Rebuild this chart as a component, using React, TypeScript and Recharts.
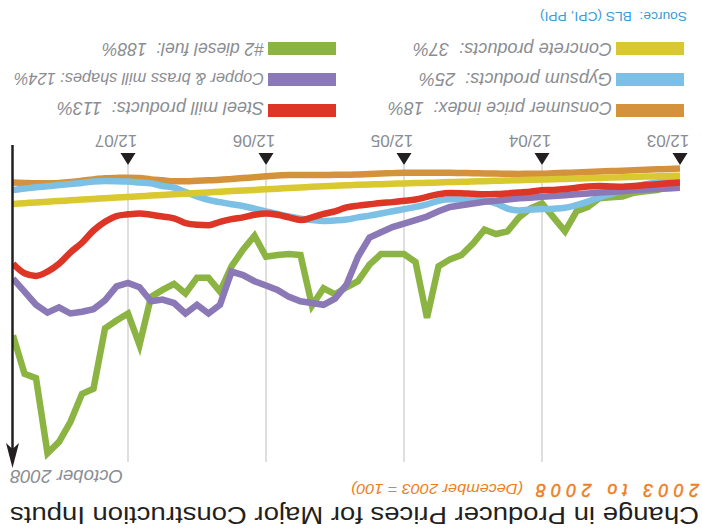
import React from 'react';
import { LineChart, Line, XAxis, YAxis, CartesianGrid } from 'recharts';

// Months from Dec 2003 (index 0) to Oct 2008 (index 58)
const monthIndex: number[] = Array.from({ length: 59 }, (_, i) => i);

const tickMonths = [0, 12, 24, 36, 48];
const tickLabels = ['12/03', '12/04', '12/05', '12/06', '12/07'];
const gridMonths = [12, 24, 36, 48];
const gridValues = [150, 200, 250, 300, 350, 400];

const cpi = [104, 104.5, 105, 105.5, 106, 106.5, 107, 107.5, 108, 108.5,
  109, 109.5, 110, 110, 110.2, 110, 109.8, 109.6, 109.4, 109.2,
  109, 108.9, 108.8, 108.8, 108.8, 109.3, 109.8, 110.3, 110.8, 111.2,
  111.3, 111.4, 111.5, 111.5, 111.5, 112, 113, 114, 115, 116,
  117, 117.5, 118, 118.5, 118.5, 117.5, 116.5, 115, 114.5, 114.8,
  115.3, 116.5, 118, 119.5, 120.5, 121, 121, 120.5, 120];

const concrete = [112.2, 112.6, 113, 113.3, 113.7, 114, 114.4, 114.8, 115.2, 115.5,
  115.9, 116.3, 116.6, 117, 117.4, 117.8, 118.1, 118.5, 118.9, 119.2,
  119.6, 120, 120.4, 120.7, 121.1, 121.5, 121.9, 122.3, 122.7, 123.2,
  123.8, 124.4, 125, 125.7, 126.4, 127.1, 127.8, 128.5, 129.2, 129.9,
  130.6, 131.4, 132.1, 132.8, 133.6, 134.3, 135, 135.8, 136.5, 137.2,
  138, 138.8, 139.6, 140.4, 141.2, 142, 142.8, 143.7, 144.6];

const gypsum = [117, 118.5, 120, 122, 125, 129, 133, 137, 142, 146,
  149, 150, 150.5, 151, 152, 150, 144, 141, 140, 139.5,
  139.3, 141, 145, 148, 150.5, 153, 155.5, 158, 160, 162.5,
  163.5, 164, 163, 161.5, 159, 156, 153, 150, 147, 145,
  142.5, 140, 136, 131, 126, 124, 121, 120, 119, 118.5,
  118.3, 119, 120.5, 121.8, 123, 124.3, 125.5, 127, 128.6];

const steel = [120, 121, 122, 123, 124, 124.8, 124.5, 124, 124.5, 126,
  127.5, 128.5, 129, 130.5, 131.5, 132.5, 133.3, 133.6, 133, 132.2,
  132, 133.5, 136.5, 139.5, 141, 142.5, 143.5, 145, 146.5, 148.5,
  153, 156, 160, 163, 160, 157, 155.5, 157, 160, 162,
  165, 169, 168.5, 166.5, 161, 159, 157, 155.4, 156.5, 158.4,
  165, 175, 189, 200, 213, 222, 227, 224, 213];

const copper = [126, 127, 127.5, 128, 129, 130, 131, 131.5, 132.5, 133.5,
  134.5, 135.5, 136.5, 137.5, 138, 139.5, 141, 142, 144, 146,
  148, 153, 159, 163, 167, 171, 177, 183, 205, 237,
  253, 260, 258, 256, 251, 243, 238, 233, 226, 222,
  260, 270, 260, 270, 258, 254, 256, 240, 235, 239,
  255, 265, 268, 270, 263, 269, 260, 245, 230];

const diesel = [120, 125, 128.6, 130, 131.7, 136, 137, 138, 148, 153,
  176, 160, 144, 149.6, 160, 176, 179, 174, 190, 203,
  208, 216, 275, 211, 202, 202, 202, 214, 233, 240,
  248, 241, 261, 203, 202, 203, 205, 181, 197, 216,
  245, 229, 229, 247, 236, 243, 251, 306, 270, 278,
  287, 356, 362, 394, 417, 430, 344, 339, 295];

const seriesNames = ['Consumer price index:  18%', 'Gypsum products:  25%', 'Concrete products:  37%',
  'Steel mill products:  113%', 'Copper & brass mill shapes: 124%', '#2 diesel fuel:  188%'];
const seriesKeys = ['cpi', 'gypsum', 'concrete', 'steel', 'copper', 'diesel'];
const seriesColors = ['#d4923d', '#7cc0e6', '#d9c830', '#dd3526', '#8b78b7', '#8cb443'];

const rows = monthIndex.map((m, i) => ({
  m,
  cpi: cpi[i],
  concrete: concrete[i],
  gypsum: gypsum[i],
  steel: steel[i],
  copper: copper[i],
  diesel: diesel[i],
}));

const FONT = '"Liberation Sans", Arial, Helvetica, sans-serif';
const GREY = '#8a8d92';
const txt = (extra: React.CSSProperties = {}): React.CSSProperties => ({ fontFamily: FONT, whiteSpace: 'pre', ...extra });

function TriTick(props: any) {
  const { x, payload } = props;
  const idx = tickMonths.indexOf(payload.value);
  return (
    <g>
      <polygon points={`${x - 7.5},376 ${x + 7.5},376 ${x},364`} fill="#231f20" />
      <text x={x + 12} y={394} textAnchor="middle" fontSize={17} fill={GREY} style={txt()}>
        {tickLabels[idx]}
      </text>
    </g>
  );
}

const legendPos = [
  { col: 0, row: 0, len: 224, size: 17.5 },
  { col: 0, row: 1, len: 193, size: 17.5 },
  { col: 0, row: 2, len: 199, size: 17.5 },
  { col: 1, row: 0, len: 207, size: 17.5 },
  { col: 1, row: 1, len: 250, size: 16.8 },
  { col: 1, row: 2, len: 162, size: 17.5 },
];
const rowTops = [412, 443, 474];
const rowBase = [427, 456.5, 486.5];
const colSwatchX = [18, 366];
const colTextX = [90, 438];

export default function App() {
  const lineOrder = ['diesel', 'cpi', 'gypsum', 'concrete', 'copper', 'steel'];
  return (
    <div
      style={{
        position: 'absolute',
        left: 0,
        top: 0,
        width: 702,
        height: 529,
        background: '#ffffff',
        transform: 'rotate(180deg)',
        overflow: 'hidden',
        fontFamily: FONT,
      }}
    >
      <div style={{ position: 'absolute', left: 0, top: 0 }}>
        <LineChart
          width={702}
          height={529}
          data={rows}
          margin={{ top: 67, right: 13, bottom: 135, left: 22 }}
        >
          <CartesianGrid
            stroke="#dfdfdf"
            strokeWidth={2}
            verticalValues={gridMonths}
            horizontalValues={gridValues}
          />
          <XAxis
            dataKey="m"
            type="number"
            domain={[0, 58]}
            ticks={tickMonths}
            interval={0}
            tick={<TriTick />}
            axisLine={false}
            tickLine={false}
            height={30}
            allowDataOverflow
          />
          <YAxis
            type="number"
            domain={[100, 440]}
            ticks={gridValues}
            width={0}
            tick={false}
            axisLine={false}
            tickLine={false}
            allowDataOverflow
          />
          {lineOrder.map((k) => {
            const ci = seriesKeys.indexOf(k);
            const straight = k === 'diesel' || k === 'copper';
            return (
              <Line
                key={k}
                dataKey={k}
                type={straight ? 'linear' : 'monotone'}
                stroke={seriesColors[ci]}
                strokeWidth={6.5}
                strokeLinejoin="miter"
                dot={false}
                activeDot={false}
                isAnimationActive={false}
              />
            );
          })}
        </LineChart>
      </div>
      <svg
        width={702}
        height={529}
        style={{ position: 'absolute', left: 0, top: 0, pointerEvents: 'none', fontFamily: FONT }}
      >
        <text x={3} y={22} fontSize={24.5} fill="#231f20" style={txt()} textLength={689} lengthAdjust="spacingAndGlyphs">
          Change in Producer Prices for Major Construction Inputs
        </text>
        <text x={3} y={45} fontSize={17.5} fill="#ef7d22" stroke="#ef7d22" strokeWidth={0.5} fontStyle="italic" style={txt()} textLength={163} lengthAdjust="spacing">
          2003 to 2008
        </text>
        <text x={179} y={45} fontSize={15.5} fill="#ef7d22" fontStyle="italic" style={txt()} textLength={172} lengthAdjust="spacingAndGlyphs">
          (December 2003 = 100)
        </text>
        <text x={579} y={59} fontSize={17.5} fill={GREY} fontStyle="italic" style={txt()} textLength={113} lengthAdjust="spacingAndGlyphs">
          October 2008
        </text>
        <line x1={689.5} y1={384} x2={689.5} y2={76} stroke="#231f20" strokeWidth={2.5} />
        <polygon points="689.5,61 696,86 689.5,80 683,86" fill="#231f20" />
        {legendPos.map((p, i) => (
          <g key={seriesKeys[i]}>
            <rect x={colSwatchX[p.col]} y={rowTops[p.row]} width={68} height={13} fill={seriesColors[i]} />
            <text
              x={colTextX[p.col]}
              y={rowBase[p.row]}
              fontSize={p.size}
              fontStyle="italic"
              fill={GREY}
              style={txt()}
              textLength={p.len}
              lengthAdjust="spacingAndGlyphs"
            >
              {seriesNames[i]}
            </text>
          </g>
        ))}
        <text x={15} y={517} fontSize={12.5} fill="#3c9ad6" style={txt()} textLength={147} lengthAdjust="spacingAndGlyphs">
          Source:  BLS (CPI, PPI)
        </text>
      </svg>
    </div>
  );
}
